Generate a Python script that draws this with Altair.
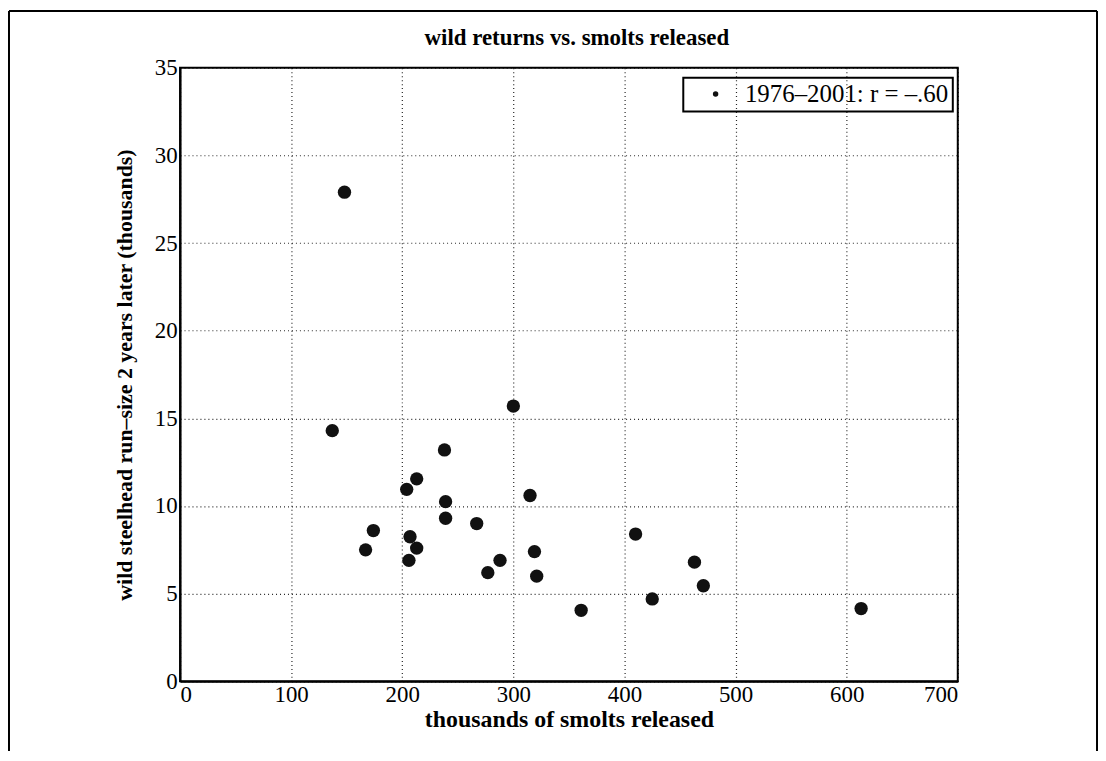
import altair as alt
import pandas as pd

smolts = [148, 137, 300, 238, 213, 204, 315, 239, 239, 267, 174, 207, 213,
          167, 319, 206, 288, 277, 321, 361, 410, 463, 471, 425, 613]
returns = [27.9, 14.3, 15.7, 13.2, 11.55, 10.95, 10.6, 10.25, 9.3, 9.0, 8.6,
           8.25, 7.6, 7.5, 7.4, 6.9, 6.9, 6.2, 6.0, 4.05, 8.4, 6.8, 5.45, 4.7, 4.15]
series_label = "1976\u20132001: r = \u2013.60"
x_ticks = [0, 100, 200, 300, 400, 500, 600, 700]
y_ticks = [0, 5, 10, 15, 20, 25, 30, 35]

df = pd.DataFrame({"smolts": smolts, "returns": returns,
                   "series": [series_label] * len(smolts)})

FONT = "Liberation Serif"

points = alt.Chart(df).mark_circle(size=180, opacity=1).encode(
    x=alt.X("smolts:Q", scale=alt.Scale(domain=[0, 700], nice=False),
            axis=alt.Axis(values=x_ticks, title="thousands of smolts released",
                          labelPadding=2, titlePadding=1,
                          titleFontSize=24, titleFontWeight="bold")),
    y=alt.Y("returns:Q", scale=alt.Scale(domain=[0, 35], nice=False),
            axis=alt.Axis(values=y_ticks,
                          title="wild steelhead run\u2013size 2 years later (thousands)",
                          labelPadding=3, titlePadding=18,
                          titleFontSize=22, titleFontWeight="bold")),
    color=alt.Color("series:N", scale=alt.Scale(range=["#111111"]),
                    legend=alt.Legend(title=None, orient="none", legendX=506, legendY=10,
                                      symbolType="circle", symbolSize=30,
                                      symbolStrokeWidth=0, symbolOffset=16,
                                      labelOffset=17, padding=4,
                                      strokeColor="black",
                                      labelFont=FONT, labelFontSize=25,
                                      labelColor="black", labelLimit=400)),
)

frame_data = alt.Data(values=[{"k": 1}])
left_line = alt.Chart(frame_data).mark_rule(color="black", strokeWidth=2).encode(
    x=alt.value(-172), y=alt.value(-57), y2=alt.value(687))
right_line = alt.Chart(frame_data).mark_rule(color="black", strokeWidth=2).encode(
    x=alt.value(922), y=alt.value(-57), y2=alt.value(687))
top_line = alt.Chart(frame_data).mark_rule(color="black", strokeWidth=2).encode(
    x=alt.value(-172), x2=alt.value(922), y=alt.value(-57))

chart = alt.layer(left_line, right_line, top_line, points).properties(
    width=782, height=617,
    autosize=alt.AutoSizeParams(type="none"),
    padding={"left": 173, "top": 58, "right": 141, "bottom": 70},
    title=alt.TitleParams("wild returns vs. smolts released", font=FONT,
                          fontSize=23, fontWeight="bold", color="black",
                          anchor="middle", frame="group", offset=18, dy=58, dx=8),
    background="white",
).configure_view(stroke="black", strokeWidth=2).configure_axis(
    domainColor="black", domainWidth=2, ticks=False,
    grid=True, gridColor="black", gridDash=[1, 3], gridWidth=1.2, gridOpacity=0.85,
    labelFont=FONT, labelFontSize=23, labelColor="black",
    titleFont=FONT, titleColor="black",
).configure_legend(strokeWidth=2)

chart.save("out.html", embed_options={"renderer": "svg", "actions": False})
